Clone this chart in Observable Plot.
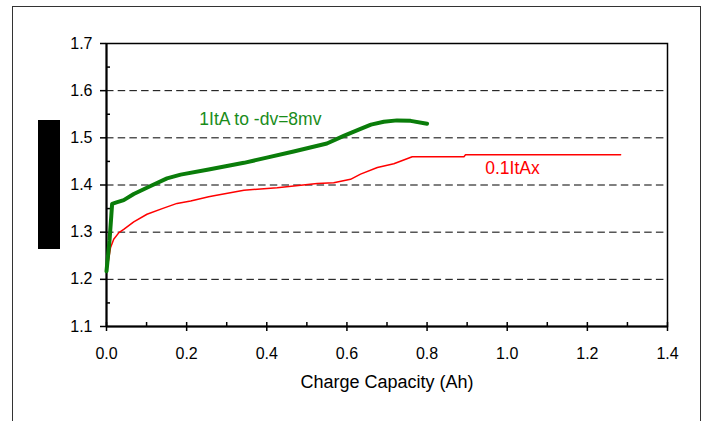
<!DOCTYPE html>
<html>
<head>
<meta charset="utf-8">
<script src="https://cdn.jsdelivr.net/npm/d3@7"></script>
<script src="https://cdn.jsdelivr.net/npm/@observablehq/plot@0.6"></script>
<style>
  html, body { margin: 0; padding: 0; background: white; }
  #wrap { position: relative; width: 707px; height: 421px; overflow: hidden; background: white; }
  #outer { position: absolute; left: 12px; top: 6px; width: 689px; height: 430px; border-left: 1.5px solid #333; border-top: 1.5px solid #333; border-right: 1.5px solid #333; box-sizing: border-box; pointer-events: none; }
  #redact { position: absolute; left: 38px; top: 120px; width: 22px; height: 129px; background: black; }
  #chart { position: absolute; left: 0; top: 0; }
</style>
</head>
<body>
<div id="wrap">
  <div id="chart"></div>
  <div id="outer"></div>
  <div id="redact"></div>
</div>
<script>
// Series: 1ItA charge (green)
const capGreen  = [0.000, 0.0075, 0.012, 0.014, 0.025, 0.043, 0.068, 0.110, 0.151, 0.185, 0.255, 0.343, 0.400, 0.467, 0.550, 0.592, 0.634, 0.660, 0.692, 0.725, 0.759, 0.800];
const voltGreen = [1.217, 1.282, 1.335, 1.360, 1.363, 1.368, 1.381, 1.398, 1.414, 1.422, 1.433, 1.447, 1.458, 1.471, 1.488, 1.504, 1.519, 1.528, 1.534, 1.537, 1.536, 1.530];
// Series: 0.1ItA charge (red)
const capRed  = [0.002, 0.006, 0.010, 0.018, 0.031, 0.043, 0.068, 0.101, 0.139, 0.176, 0.210, 0.255, 0.268, 0.343, 0.426, 0.526, 0.567, 0.609, 0.634, 0.676, 0.717, 0.763, 0.892, 0.896, 1.283];
const voltRed = [1.225, 1.246, 1.267, 1.285, 1.299, 1.306, 1.322, 1.338, 1.350, 1.361, 1.366, 1.375, 1.377, 1.389, 1.394, 1.403, 1.405, 1.412, 1.423, 1.437, 1.445, 1.460, 1.460, 1.464, 1.464];

const seriesLabels = ["1ItA to -dv=8mv", "0.1ItAx"];
const xTicks = [0, 0.2, 0.4, 0.6, 0.8, 1.0, 1.2, 1.4];
const xMinor = [0.1, 0.3, 0.5, 0.7, 0.9, 1.1, 1.3];
const yTicks = [1.1, 1.2, 1.3, 1.4, 1.5, 1.6, 1.7];
const yMinor = [1.15, 1.25, 1.35, 1.45, 1.55, 1.65];
const yGrid  = [1.2, 1.3, 1.4, 1.5, 1.6];
const xTitle = "Charge Capacity (Ah)";

const green = capGreen.map((x, i) => ({x, y: voltGreen[i]}));
const red = capRed.map((x, i) => ({x, y: voltRed[i]}));

const GREEN = "#0a7d0a";
const RED = "#ff0000";

const chart = Plot.plot({
  width: 707,
  height: 421,
  marginLeft: 106,
  marginRight: 40,
  marginTop: 43,
  marginBottom: 95,
  x: {domain: [0, 1.4]},
  y: {domain: [1.1, 1.7]},
  style: {fontFamily: "'Liberation Sans', Arial, sans-serif", fontSize: "16px", color: "black", background: "white"},
  marks: [
    Plot.ruleY(yGrid, {stroke: "black", strokeWidth: 1, strokeDasharray: "7.5,4.2"}),
    Plot.frame({stroke: "black", strokeWidth: 1.5}),
    Plot.axisY({ticks: yTicks, tickSize: 6, tickPadding: 8, tickFormat: d3.format(".1f"), label: null, stroke: "black", strokeWidth: 1.5, fontSize: 16}),
    Plot.axisY({ticks: yMinor, tickSize: 4, dx: 4, text: null, label: null, stroke: "black", strokeWidth: 1.5}),
    Plot.axisX({ticks: xTicks, tickSize: 5, tickPadding: 16, tickFormat: d3.format(".1f"), label: null, stroke: "black", strokeWidth: 1.5, fontSize: 16}),
    Plot.axisX({ticks: xMinor.concat(xTicks), tickSize: 4, dy: -4, text: null, label: null, stroke: "black", strokeWidth: 1.5}),
    Plot.ruleX([0], {stroke: "black", strokeWidth: 2}),
    Plot.ruleY([1.1], {stroke: "black", strokeWidth: 2}),
    Plot.line(red, {x: "x", y: "y", stroke: RED, strokeWidth: 1.5}),
    Plot.line(green, {x: "x", y: "y", stroke: GREEN, strokeWidth: 4}),
    Plot.text([seriesLabels[0]], {x: 0.384, y: 1.54, text: d => d, fill: "#1a8c1a", fontSize: 17.5}),
    Plot.text([seriesLabels[1]], {x: 1.013, y: 1.436, text: d => d, fill: RED, fontSize: 17.5}),
    Plot.text([xTitle], {frameAnchor: "bottom", dy: 61, text: d => d, fill: "black", fontSize: 18})
  ]
});
document.getElementById("chart").appendChild(chart);
</script>
</body>
</html>
